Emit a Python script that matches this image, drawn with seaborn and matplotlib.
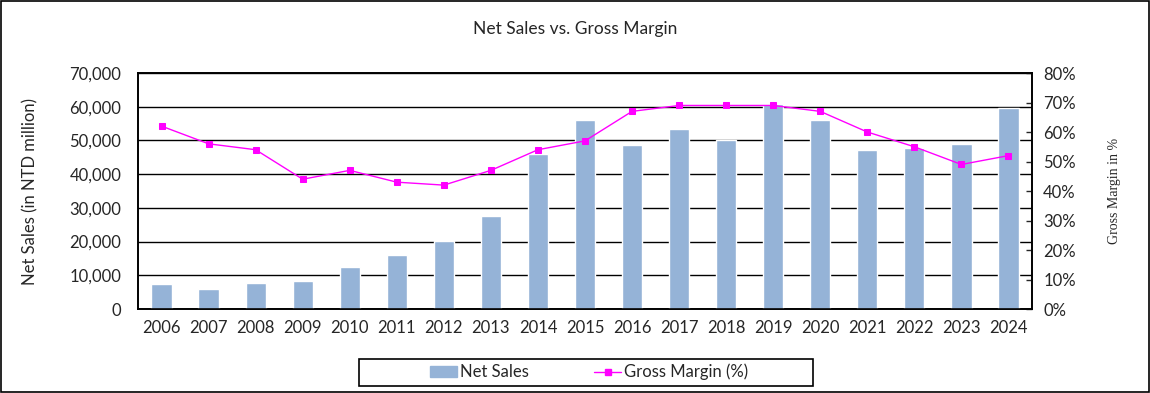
import numpy as np
import pandas as pd
import matplotlib
matplotlib.use("Agg")
import matplotlib.pyplot as plt
from matplotlib.patches import Rectangle
from matplotlib.lines import Line2D
from matplotlib.ticker import FuncFormatter, MultipleLocator, FixedLocator
import seaborn as sns

# data
years = [str(y) for y in range(2006, 2025)]
net_sales = [7400, 6000, 7700, 8300, 12400, 16000, 20100, 27600, 46000, 56100,
             48600, 53400, 50100, 60800, 56100, 47200, 47800, 48900, 59600]
gross_margin = [62, 56, 54, 44, 47, 43, 42, 47, 54, 57,
                67, 69, 69, 69, 67, 60, 55, 49, 52]

bar_color = "#95B3D7"
line_color = "#FF00FF"

df = pd.DataFrame({"Year": years, "Net Sales": net_sales, "Gross Margin": gross_margin})

sns.set_style("white")
plt.rcParams["font.family"] = ["Lato", "DejaVu Sans"]

fig = plt.figure(figsize=(11.5, 3.93), dpi=100)
ax = fig.add_axes([0.12, 0.2137, 0.7774, 0.6005])

sns.barplot(data=df, x="Year", y="Net Sales", color=bar_color, width=0.43,
            saturation=1, ax=ax, zorder=3)
ax.set_ylim(0, 70000)
ax.yaxis.set_major_locator(MultipleLocator(10000))
ax.yaxis.set_major_formatter(FuncFormatter(lambda v, p: f"{int(v):,}"))
ax.grid(axis="y", color="black", linewidth=1, zorder=0)
ax.set_axisbelow(True)
ax.set_xlabel("")
ax.set_ylabel("Net Sales (in NTD million)", fontsize=12, labelpad=22)
ax.tick_params(axis="y", length=0, labelsize=12, pad=12)
ax.tick_params(axis="x", which="major", length=0, labelsize=12, pad=8)
n = len(years)
ax.xaxis.set_minor_locator(FixedLocator(np.arange(0.5, n - 1, 1.0)))
ax.tick_params(axis="x", which="minor", direction="in", length=5, width=1, color="black")
for s in ax.spines.values():
    s.set_color("black")
    s.set_linewidth(1.2)

ax2 = ax.twinx()
sns.pointplot(data=df, x="Year", y="Gross Margin", color=line_color, markers="s",
              linestyles="-", markersize=5, linewidth=1, ax=ax2)
ax2.set_ylim(0, 80)
ax2.yaxis.set_major_locator(MultipleLocator(10))
ax2.yaxis.set_major_formatter(FuncFormatter(lambda v, p: f"{int(v)}%"))
ax2.tick_params(axis="y", direction="in", length=4, width=1, labelsize=12, pad=8)
ax2.set_ylabel("Gross Margin in %", fontsize=10, labelpad=23,
               family=["Liberation Serif", "DejaVu Serif"])
ax2.set_xlabel("")
ax.set_xlim(-0.5, n - 0.5)
ax2.set_xlim(-0.5, n - 0.5)
for s in ax2.spines.values():
    s.set_color("black")
    s.set_linewidth(1.2)

fig.text(0.5, 0.926, "Net Sales vs. Gross Margin", ha="center", va="center", fontsize=12.5)

# legend (no frame) plus a separate box like the reference
handles = [Rectangle((0, 0), 1, 1, color=bar_color),
           Line2D([0], [0], color=line_color, marker="s", markersize=5, linewidth=1)]
leg = fig.legend(handles, ["Net Sales", "Gross Margin (%)"], loc="center",
                 bbox_to_anchor=(0.5125, 0.053), ncol=2, fontsize=12, frameon=False,
                 columnspacing=3.9, handlelength=1.6, handletextpad=0.2)
fig.patches.append(Rectangle((359 / 1150, 1 - 386 / 393), 454 / 1150, 27 / 393,
                             transform=fig.transFigure, fill=False,
                             edgecolor="black", linewidth=1.2))

fig.patches.append(Rectangle((0.001, 0.002), 0.998, 0.996, transform=fig.transFigure,
                             fill=False, edgecolor="black", linewidth=1.2))

fig.savefig("out.png", dpi=100, facecolor="white")
